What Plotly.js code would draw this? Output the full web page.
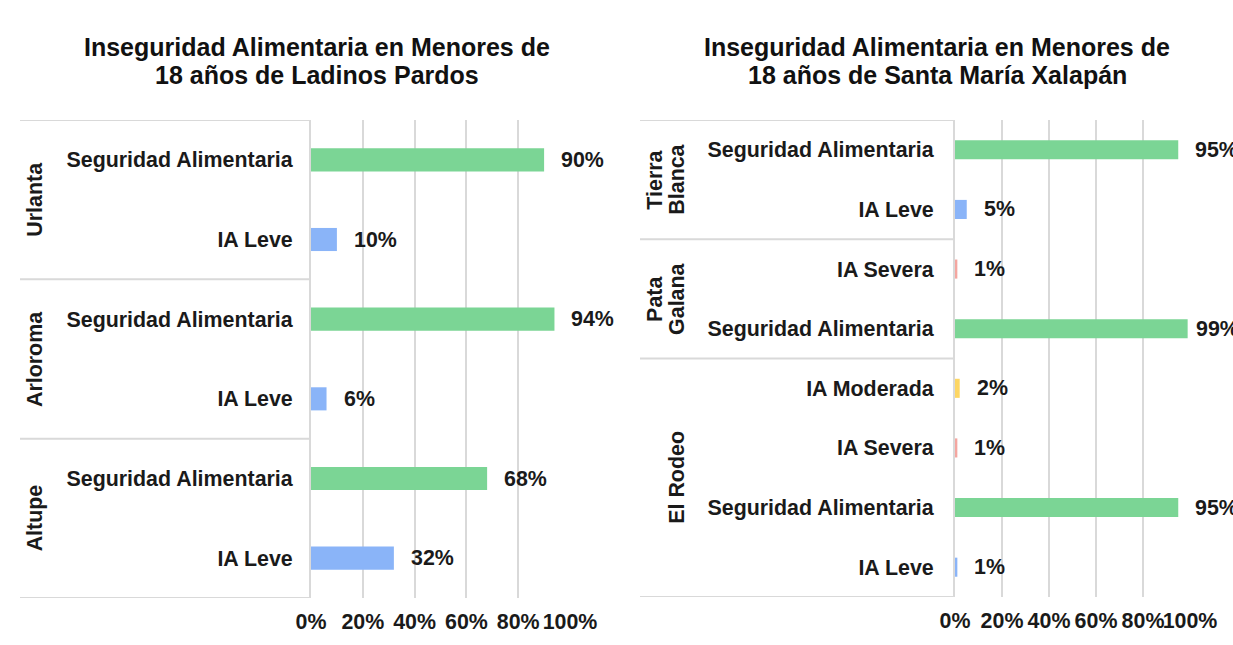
<!DOCTYPE html>
<html>
<head>
<meta charset="utf-8">
<script src="https://cdn.plot.ly/plotly-3.0.1.min.js"></script>
<style>html,body{margin:0;padding:0;background:#fff;}#chart{width:1233px;height:645px;}</style>
</head>
<body>
<div id="chart"></div>
<script>
// ---- Data ----
const leftTitleLines = ['Inseguridad Alimentaria en Menores de', '18 años de Ladinos Pardos'];
const leftGroups = ['Urlanta', 'Urlanta', 'Arloroma', 'Arloroma', 'Altupe', 'Altupe'];
const leftCategories = ['Seguridad Alimentaria', 'IA Leve', 'Seguridad Alimentaria', 'IA Leve', 'Seguridad Alimentaria', 'IA Leve'];
const leftValues = [0.90, 0.10, 0.94, 0.06, 0.68, 0.32];

const rightTitleLines = ['Inseguridad Alimentaria en Menores de', '18 años de Santa María Xalapán'];
const rightGroups = ['Tierra Blanca', 'Tierra Blanca', 'Pata Galana', 'Pata Galana', 'El Rodeo', 'El Rodeo', 'El Rodeo', 'El Rodeo'];
const rightGroupLabelLines = {'Tierra Blanca': ['Tierra', 'Blanca'], 'Pata Galana': ['Pata', 'Galana'], 'El Rodeo': ['El Rodeo']};
const rightCategories = ['Seguridad Alimentaria', 'IA Leve', 'IA Severa', 'Seguridad Alimentaria', 'IA Moderada', 'IA Severa', 'Seguridad Alimentaria', 'IA Leve'];
const rightValues = [0.95, 0.05, 0.01, 0.99, 0.02, 0.01, 0.95, 0.01];

const xTickValues = [0, 0.2, 0.4, 0.6, 0.8, 1.0];
const xTickLabels = ['0%', '20%', '40%', '60%', '80%', '100%'];

const categoryColors = {
  'Seguridad Alimentaria': '#7bd595',
  'IA Leve': '#8ab4f8',
  'IA Severa': '#f4a6a0',
  'IA Moderada': '#fdd663'
};

// ---- Layout helpers ----
const W = 1233, H = 645;
const px = x => x / W;
const py = y => 1 - y / H;
const FONT = 'Liberation Sans, Arial, sans-serif';
const GRID = '#d9d9d9';
const LABEL_SIZE = 21.4;
const LABEL_GAP = 15;       // px between bar end and value label
const LABEL_MAX_START = 1194; // labels are not pushed further right than this

const panels = [
  {titleLines: leftTitleLines, groups: leftGroups, cats: leftCategories, vals: leftValues,
   titleX: 317, frameL: 20, axL: 311, axR: 570, top: 120, bottom: 598, standoff: 12,
   barWidth: 0.29, groupX: 35, lineStep: 22, xa: 'x', ya: 'y'},
  {titleLines: rightTitleLines, groups: rightGroups, cats: rightCategories, vals: rightValues,
   titleX: 937, frameL: 640, axL: 955, axR: 1190, top: 120, bottom: 597, standoff: 15,
   barWidth: 0.32, groupX: 677, lineStep: 22, xa: 'x2', ya: 'y2', labelLines: rightGroupLabelLines}
];

const data = [];
const shapes = [];
const annotations = [];
const layout = {
  width: W, height: H,
  margin: {l: 0, r: 0, t: 0, b: 0},
  paper_bgcolor: '#fff', plot_bgcolor: '#fff',
  showlegend: false,
  font: {family: FONT, size: LABEL_SIZE, color: '#1a1a1a', weight: 'bold'},
  shapes: shapes, annotations: annotations
};

panels.forEach((p, k) => {
  const idx = p.vals.map((_, i) => i);
  data.push({
    type: 'bar', orientation: 'h',
    x: p.vals, y: idx,
    xaxis: p.xa, yaxis: p.ya,
    width: p.barWidth,
    marker: {color: p.cats.map(c => categoryColors[c])},
    hoverinfo: 'x+text', text: p.cats, textposition: 'none'
  });
  const xKey = k === 0 ? 'xaxis' : 'xaxis2';
  const yKey = k === 0 ? 'yaxis' : 'yaxis2';
  layout[xKey] = {
    domain: [px(p.axL), px(p.axR)], range: [0, 1], anchor: p.ya,
    tickvals: xTickValues, ticktext: xTickLabels, tickangle: 0,
    showgrid: true, gridcolor: GRID, gridwidth: 2, zeroline: false, showline: false,
    ticks: '', ticklabelstandoff: 9,
    tickfont: {family: FONT, size: LABEL_SIZE, color: '#1a1a1a', weight: 'bold'},
    fixedrange: true
  };
  layout[yKey] = {
    domain: [py(p.bottom), py(p.top)], range: [p.vals.length - 0.5, -0.5], anchor: p.xa,
    tickvals: idx, ticktext: p.cats,
    showgrid: false, zeroline: false, showline: true, linecolor: GRID, linewidth: 2,
    ticks: '', ticklabelstandoff: p.standoff,
    tickfont: {family: FONT, size: LABEL_SIZE, color: '#1a1a1a', weight: 'bold'},
    fixedrange: true
  };
  // titles
  p.titleLines.forEach((t, j) => {
    annotations.push({
      xref: 'paper', yref: 'paper', x: px(p.titleX), y: py(47 + j * 28),
      xanchor: 'center', yanchor: 'middle', showarrow: false, text: t,
      font: {family: FONT, size: 25, color: '#111', weight: 'bold'}
    });
  });
  // value labels (pushed back left if they would start too far right)
  const plotW = p.axR - p.axL;
  p.vals.forEach((v, i) => {
    const barEnd = p.axL + v * plotW;
    const shift = Math.min(LABEL_GAP, LABEL_MAX_START - barEnd);
    annotations.push({
      xref: p.xa, yref: p.ya, x: v, y: i, xanchor: 'left', yanchor: 'middle',
      xshift: shift, showarrow: false, text: Math.round(v * 100) + '%',
      font: {family: FONT, size: LABEL_SIZE, color: '#1a1a1a', weight: 'bold'}
    });
  });
  // groups: separators and labels
  const groupNames = [];
  p.groups.forEach(g => { if (!groupNames.includes(g)) groupNames.push(g); });
  const boundaries = [];
  groupNames.forEach(g => {
    const first = p.groups.indexOf(g);
    const last = p.groups.lastIndexOf(g);
    boundaries.push(first - 0.5);
    const lines = p.labelLines ? p.labelLines[g] : [g];
    lines.forEach((ln, j) => {
      const offset = (j - (lines.length - 1)) * p.lineStep;
      annotations.push({
        xref: 'paper', yref: p.ya, x: px(p.groupX + offset), y: (first + last) / 2,
        xanchor: 'center', yanchor: 'middle', textangle: -90, showarrow: false, text: ln,
        font: {family: FONT, size: LABEL_SIZE, color: '#1a1a1a', weight: 'bold'}
      });
    });
  });
  boundaries.push(p.groups.length - 0.5);
  boundaries.forEach(b => {
    shapes.push({
      type: 'line', xref: 'paper', yref: p.ya,
      x0: px(p.frameL), x1: px(p.axL), y0: b, y1: b,
      line: {color: GRID, width: 2}, layer: 'below'
    });
  });
});

Plotly.newPlot('chart', data, layout, {displayModeBar: false, staticPlot: true});
</script>
</body>
</html>
